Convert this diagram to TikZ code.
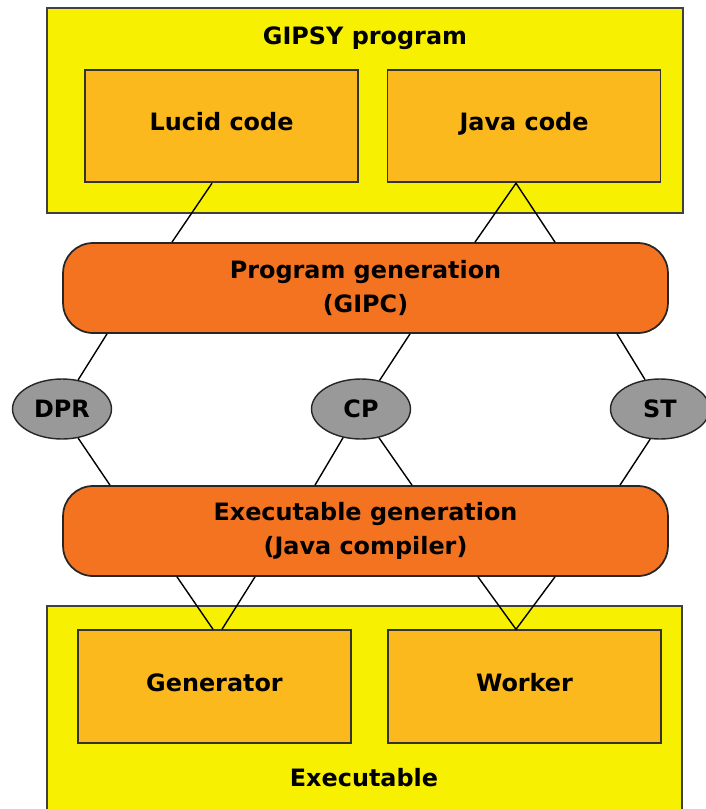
\documentclass[tikz,border=0pt]{standalone}
\usepackage{fontspec}
\setmainfont{DejaVu Sans}
\usetikzlibrary{shapes.geometric,calc}
\definecolor{gipsyyellow}{RGB}{247,240,0}
\definecolor{codeamber}{RGB}{251,185,30}
\definecolor{genorange}{RGB}{244,115,33}
\definecolor{tokengray}{RGB}{153,153,153}
\begin{document}
\begin{tikzpicture}[x=0.02cm,y=-0.02cm,
    font=\fontsize{13.6}{19.3}\selectfont\bfseries,
    container/.style={draw=black!75,line width=1pt,fill=gipsyyellow,inner sep=0pt},
    codebox/.style={draw=black!80,line width=1.1pt,fill=codeamber,minimum width=5.46cm,minimum height=2.25cm,inner sep=0pt,text height=0.35cm,text depth=0.16cm},
    genbox/.style={draw=black!85,line width=1pt,fill=genorange,rounded corners=0.6cm,minimum width=12.1cm,minimum height=1.8cm,align=center,inner sep=0pt},
    token/.style={ellipse,draw=black!85,line width=0.8pt,fill=tokengray,minimum width=1.98cm,minimum height=1.2cm,inner sep=0pt},
    link/.style={line width=0.8pt}]
  \useasboundingbox (0,0) rectangle (706,809);

  % GIPSY program
  \node[container,minimum width=12.72cm,minimum height=4.1cm] (gipsy) at (365,110.5) {};
  \node (gipsytitle) at (365,38) {GIPSY program};
  \node[codebox] (lucid) at (221.5,126) {Lucid code};
  \node[codebox] (java) at (524,126) {Java code};

  % generation steps
  \node[genbox] (pgen) at (365.5,288) {Program generation\\(GIPC)};
  \node[genbox] (egen) at (365.5,531) {Executable generation\\(Java compiler)};

  \node[token] (dpr) at (62,409) {DPR};
  \node[token] (cp) at (361,409) {CP};
  \node[token] (st) at (660,409) {ST};

  % executable
  \node[container,minimum width=12.7cm,minimum height=4.2cm] (exec) at (364.5,711) {};
  \node (exectitle) at (364,778) {Executable};
  \node[codebox] (generator) at (214.5,686.5) {Generator};
  \node[codebox] (worker) at (524.5,686.5) {Worker};

  \draw[link] ($(lucid.south)+(-9.5,0)$) -- ($(pgen.north)+(-193.5,0)$);
  \draw[link] ($(pgen.north)+(109.5,0)$) -- ($(java.south)+(-8,0)$) -- ($(pgen.north)+(189.5,0)$);

  \draw[link] ($(pgen.south)+(-258.5,0)$) -- (dpr.61);
  \draw[link] (dpr.-61) -- ($(egen.north)+(-255.5,0)$);
  \draw[link] ($(pgen.south)+(44.5,0)$) -- (cp.57);
  \draw[link] (cp.238) -- ($(egen.north)+(-50.5,0)$);
  \draw[link] (cp.-58) -- ($(egen.north)+(46.5,0)$);
  \draw[link] ($(pgen.south)+(251.5,0)$) -- (st.117);
  \draw[link] (st.252) -- ($(egen.north)+(254.5,0)$);

  \draw[link] ($(egen.south)+(-188.5,0)$) -- ($(generator.north)+(-1.5,0)$);
  \draw[link] ($(egen.south)+(-110.5,0)$) -- ($(generator.north)+(7.5,0)$);
  \draw[link] ($(egen.south)+(112.5,0)$) -- ($(worker.north)+(-8.5,0)$) -- ($(egen.south)+(189.5,0)$);
\end{tikzpicture}
\end{document}
